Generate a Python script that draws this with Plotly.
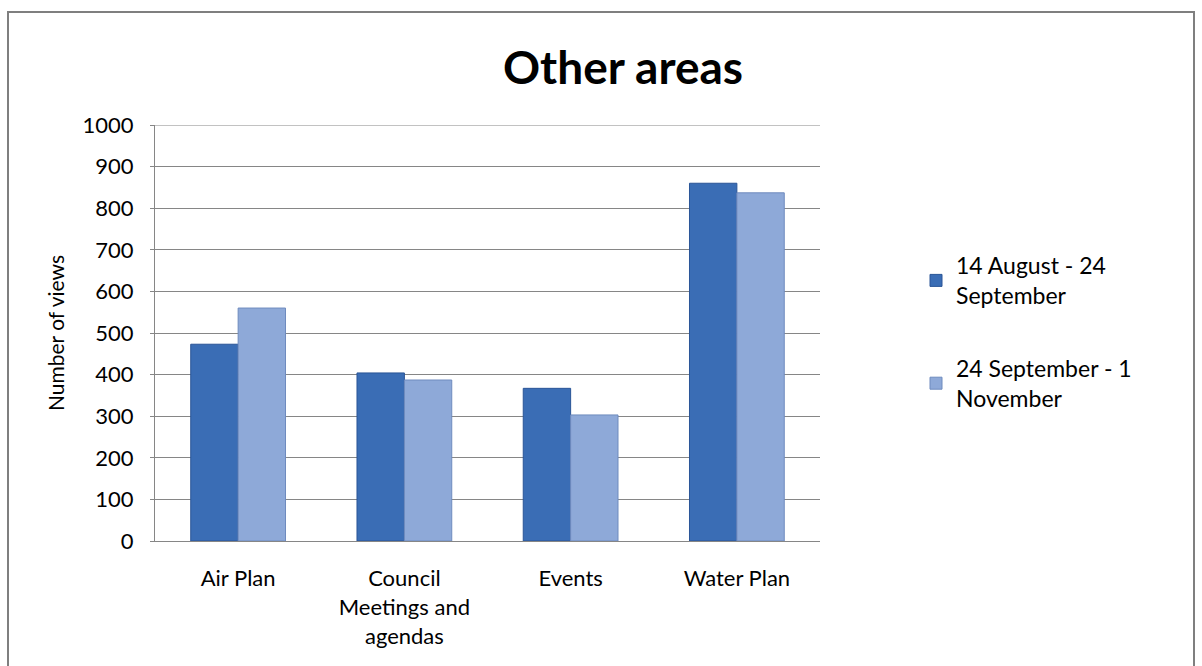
import plotly.graph_objects as go

categories = ["Air Plan", "Council<br>Meetings and<br>agendas", "Events", "Water Plan"]
series1_name = "14 August - 24<br>September"
series2_name = "24 September - 1<br>November"
series1 = [473, 404, 367, 860]
series2 = [560, 387, 303, 837]
y_ticks = [0, 100, 200, 300, 400, 500, 600, 700, 800, 900, 1000]

FONT = "Lato"
L, R, T, B = 155, 820, 125, 541
W, H = 1202, 666
pw, ph = R - L, B - T

fig = go.Figure()
fig.add_trace(go.Bar(x=categories, y=series1, name=series1_name, legendgroup="a",
                     marker=dict(color="#3A6DB5", line=dict(color="#2A5597", width=1))))
fig.add_trace(go.Bar(x=categories, y=series2, name=series2_name, legendgroup="b",
                     marker=dict(color="#8EA9D8", line=dict(color="#6F8BBE", width=1))))

def px_x(x):
    return (x - L) / pw

def px_y(y):
    return (B - y) / ph

fig.update_layout(
    width=W, height=H,
    margin=dict(l=L, r=W - R, t=T, b=H - B),
    paper_bgcolor="white", plot_bgcolor="white",
    font=dict(family=FONT, size=22, color="#000000"),
    title=dict(text="<b>Other areas</b>", x=623 / W, xanchor="center",
               y=1 - 68 / H, yanchor="middle", font=dict(size=46, family=FONT)),
    barmode="group", bargap=0.43, bargroupgap=0,
    showlegend=True,
    legend=dict(x=px_x(916), y=px_y(244), xanchor="left", yanchor="top",
                font=dict(size=23, family=FONT), tracegroupgap=40,
                itemwidth=30, bgcolor="rgba(0,0,0,0)"),
    xaxis=dict(showgrid=False, showline=True, linecolor="#868686", linewidth=1,
               ticks="outside", ticklen=0, tickfont=dict(size=22),
               ticklabelstandoff=18),
    yaxis=dict(range=[0, 1000], tickvals=y_ticks, showgrid=True, gridcolor="#868686",
               gridwidth=1, showline=True, linecolor="#868686", linewidth=1,
               ticks="outside", ticklen=4, tickcolor="#868686", tickfont=dict(size=22),
               ticklabelstandoff=12,
               title=dict(text="Number of views", font=dict(size=21), standoff=12),
               zeroline=False),
    shapes=[
        dict(type="rect", xref="paper", yref="paper",
             x0=px_x(8), x1=px_x(1194), y0=px_y(700), y1=px_y(12),
             line=dict(color="#7F7F7F", width=2), fillcolor="rgba(0,0,0,0)", layer="below"),
        dict(type="line", xref="paper", yref="y", x0=0, x1=1,
             y0=y_ticks[-1], y1=y_ticks[-1], line=dict(color="#868686", width=1), layer="below"),
    ],
)

fig.write_html("out.html")
